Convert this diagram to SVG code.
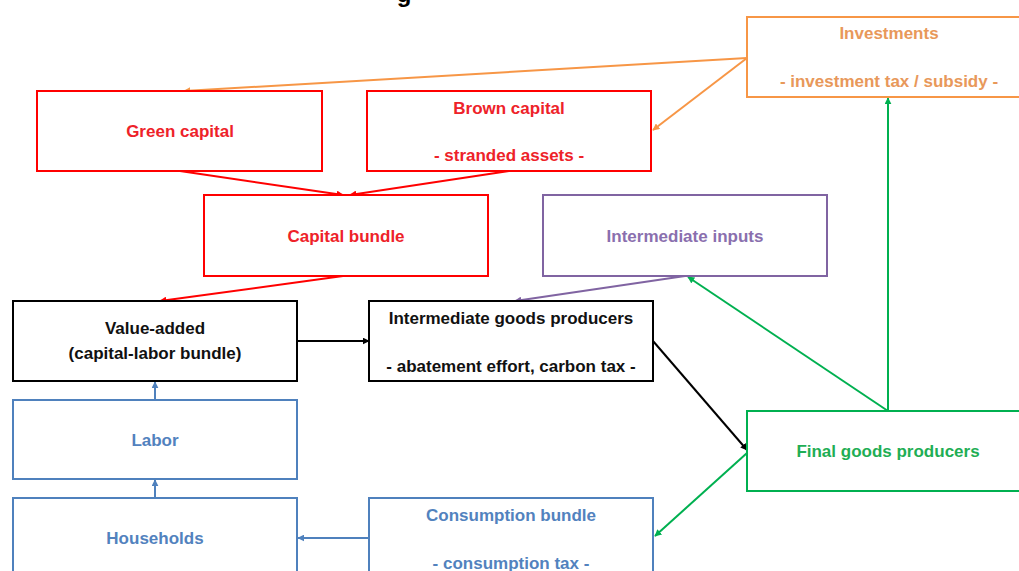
<svg xmlns="http://www.w3.org/2000/svg" width="1019" height="571" viewBox="0 0 1019 571">
<style>
text{font-family:"Liberation Sans",Arial,sans-serif;font-weight:bold;font-size:17px;text-anchor:middle}
.box{fill:#fff;stroke-width:2}
.red{stroke:#ff0000}.redt{fill:#ee2229}
.org{stroke:#f79646}.orgt{fill:#e8985a}
.pur{stroke:#8064a2}.purt{fill:#8a6fae}
.blk{stroke:#000}.blkt{fill:#111}
.blu{stroke:#4f81bd}.blut{fill:#5282be}
.grn{stroke:#00b050}.grnt{fill:#1fae55}
.c{fill:none;stroke-width:2}
</style>
<defs>
<marker id="aR" viewBox="0 0 10 10" refX="9" refY="5" markerWidth="3.5" markerHeight="3.5" orient="auto"><path d="M0,0L10,5L0,10z" fill="#ff0000"/></marker>
<marker id="aO" viewBox="0 0 10 10" refX="9" refY="5" markerWidth="3.5" markerHeight="3.5" orient="auto"><path d="M0,0L10,5L0,10z" fill="#f79646"/></marker>
<marker id="aP" viewBox="0 0 10 10" refX="9" refY="5" markerWidth="3.5" markerHeight="3.5" orient="auto"><path d="M0,0L10,5L0,10z" fill="#8064a2"/></marker>
<marker id="aK" viewBox="0 0 10 10" refX="9" refY="5" markerWidth="3.5" markerHeight="3.5" orient="auto"><path d="M0,0L10,5L0,10z" fill="#000"/></marker>
<marker id="aB" viewBox="0 0 10 10" refX="9" refY="5" markerWidth="3.5" markerHeight="3.5" orient="auto"><path d="M0,0L10,5L0,10z" fill="#4f81bd"/></marker>
<marker id="aG" viewBox="0 0 10 10" refX="9" refY="5" markerWidth="3.5" markerHeight="3.5" orient="auto"><path d="M0,0L10,5L0,10z" fill="#00b050"/></marker>
</defs>
<rect width="1019" height="571" fill="#fff"/>
<text x="404" y="2" style="font-size:24px;fill:#000">g</text>
<g id="connectors">
<path class="c org" d="M747,58L184,91" marker-end="url(#aO)"/>
<path class="c org" d="M747,58L653,130" marker-end="url(#aO)"/>
<path class="c red" d="M180,171L343,195" marker-end="url(#aR)"/>
<path class="c red" d="M509,171L350,195" marker-end="url(#aR)"/>
<path class="c red" d="M343,276L160,301" marker-end="url(#aR)"/>
<path class="c pur" d="M685,276L515,301" marker-end="url(#aP)"/>
<path class="c blk" d="M297,341L369,341" marker-end="url(#aK)"/>
<path class="c blk" d="M653,341L747,450" marker-end="url(#aK)"/>
<path class="c grn" d="M888,411L688,277" marker-end="url(#aG)"/>
<path class="c grn" d="M888,411L888,98" marker-end="url(#aG)"/>
<path class="c grn" d="M747,453L655,536" marker-end="url(#aG)"/>
<path class="c blu" d="M369,538L298,538" marker-end="url(#aB)"/>
<path class="c blu" d="M155,498L155,480" marker-end="url(#aB)"/>
<path class="c blu" d="M155,400L155,382" marker-end="url(#aB)"/>
</g>
<g id="investments"><rect class="box org" x="747" y="17" width="280" height="80"/><text class="orgt" x="889" y="39">Investments</text><text class="orgt" x="889" y="87">- investment tax / subsidy -</text></g>
<g id="green-capital"><rect class="box red" x="37" y="91" width="285" height="80"/><text class="redt" x="180" y="137">Green capital</text></g>
<g id="brown-capital"><rect class="box red" x="367" y="91" width="284" height="80"/><text class="redt" x="509" y="114">Brown capital</text><text class="redt" x="509" y="161">- stranded assets -</text></g>
<g id="capital-bundle"><rect class="box red" x="204" y="195" width="284" height="81"/><text class="redt" x="346" y="242">Capital bundle</text></g>
<g id="intermediate-inputs"><rect class="box pur" x="543" y="195" width="284" height="81"/><text class="purt" x="685" y="242">Intermediate inputs</text></g>
<g id="value-added"><rect class="box blk" x="13" y="301" width="284" height="80"/><text class="blkt" x="155" y="334">Value-added</text><text class="blkt" x="155" y="359">(capital-labor bundle)</text></g>
<g id="intermediate-goods-producers"><rect class="box blk" x="369" y="301" width="284" height="80"/><text class="blkt" x="511" y="324">Intermediate goods producers</text><text class="blkt" x="511" y="372">- abatement effort, carbon tax -</text></g>
<g id="labor"><rect class="box blu" x="13" y="400" width="284" height="79"/><text class="blut" x="155" y="446">Labor</text></g>
<g id="final-goods-producers"><rect class="box grn" x="747" y="411" width="280" height="80"/><text class="grnt" x="888" y="457">Final goods producers</text></g>
<g id="households"><rect class="box blu" x="13" y="498" width="284" height="90"/><text class="blut" x="155" y="544">Households</text></g>
<g id="consumption-bundle"><rect class="box blu" x="369" y="498" width="284" height="90"/><text class="blut" x="511" y="521">Consumption bundle</text><text class="blut" x="511" y="569">- consumption tax -</text></g>
</svg>
